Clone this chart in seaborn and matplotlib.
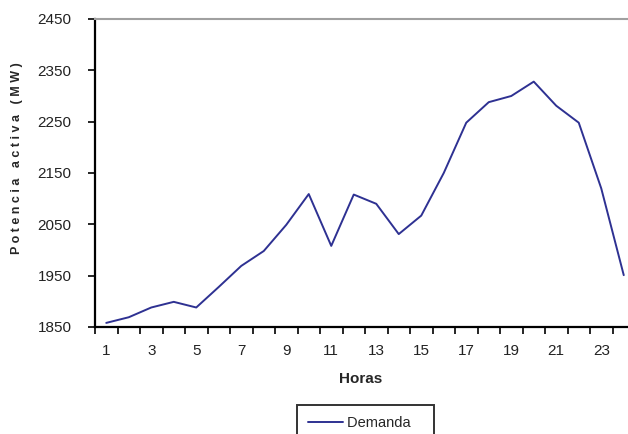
import matplotlib
matplotlib.use("Agg")
import matplotlib.pyplot as plt
from matplotlib.ticker import FixedLocator
import seaborn as sns
import pandas as pd

horas = list(range(1, 25))
demanda = [1858, 1869, 1888, 1899, 1888, 1928, 1969, 1998, 2049, 2109,
           2008, 2108, 2090, 2031, 2067, 2150, 2248, 2288, 2300, 2328,
           2281, 2248, 2120, 1951]
y_ticks = [1850, 1950, 2050, 2150, 2250, 2350, 2450]
x_labels = [1, 3, 5, 7, 9, 11, 13, 15, 17, 19, 21, 23]

df = pd.DataFrame({"Horas": horas, "Demanda": demanda})

sns.set_theme(style="white")
plt.rcParams["font.family"] = ["Liberation Sans", "DejaVu Sans"]

W, H = 628, 434
fig = plt.figure(figsize=(W / 100, H / 100), dpi=100)
ax = fig.add_axes([95 / W, 1 - 327 / H, (635 - 95) / W, (327 - 19) / H])
AW, AH = 635 - 95, 327 - 19

line_color = "#2E3192"
sns.lineplot(data=df, x="Horas", y="Demanda", ax=ax, color=line_color,
             linewidth=1.4, label="Demanda", legend=False)

ax.set_xlim(0.5, 24.5)
ax.set_ylim(1850, 2450)
ax.set_yticks(y_ticks)
ax.set_xticks(x_labels)
ax.xaxis.set_minor_locator(FixedLocator([i + 0.5 for i in range(0, 25)]))
ax.tick_params(axis="x", which="major", length=0, pad=12, labelsize=11,
               colors="#222222")
ax.tick_params(axis="x", which="minor", length=5, width=1.2, direction="out",
               color="black", bottom=True)
ax.tick_params(axis="y", which="major", length=5, width=1.2, direction="out",
               color="black", left=True, pad=12, labelsize=11,
               labelcolor="#222222")

for side in ("left", "bottom"):
    ax.spines[side].set_color("black")
    ax.spines[side].set_linewidth(1.6)
ax.spines["top"].set_color("#A0A0A0")
ax.spines["top"].set_linewidth(1.5)
ax.spines["right"].set_visible(False)

ax.set_xlabel("Horas", fontsize=11, fontweight="bold", va="center")
ax.xaxis.set_label_coords((361 - 95) / AW, -(379 - 327) / AH)
ax.set_ylabel("P o t e n c i a   a c t i v a   ( M W )", fontsize=9,
              fontweight="bold", va="center")
ax.yaxis.set_label_coords(-(95 - 17) / AW, (327 - 158) / AH)

handles, labels = ax.get_legend_handles_labels()
leg = fig.legend(handles, ["Demanda   "], loc="upper left",
                 bbox_to_anchor=(297 / W, 1 - 405 / H), frameon=True,
                 fancybox=False, fontsize=10.5, handlelength=2.4,
                 borderpad=0.75, borderaxespad=0, handletextpad=0.3)
leg.get_frame().set_edgecolor("black")
leg.get_frame().set_linewidth(1.4)

fig.savefig("out.png", dpi=100)
